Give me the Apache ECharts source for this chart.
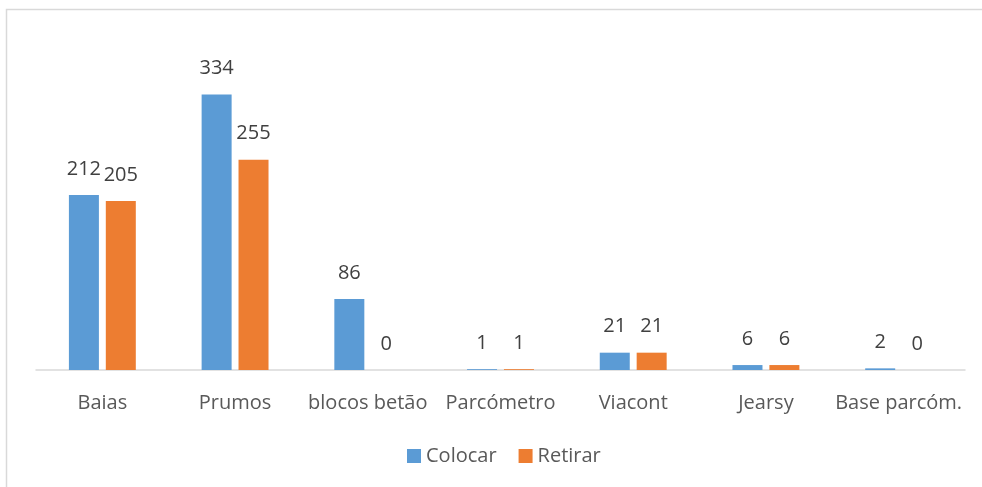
<!DOCTYPE html>
<html>
<head>
<meta charset="utf-8">
<script src="https://cdn.jsdelivr.net/npm/echarts@6/dist/echarts.min.js"></script>
<style>
  html, body { margin: 0; padding: 0; background: #fff; }
  #main { width: 982px; height: 487px; }
</style>
</head>
<body>
<div id="main"></div>
<script>
  var categories = ['Baias', 'Prumos', 'blocos betão', 'Parcómetro', 'Viacont', 'Jearsy', 'Base parcóm.'];
  var colocar = [212, 334, 86, 1, 21, 6, 2];
  var retirar = [205, 255, 0, 1, 21, 6, 0];

  var font = '"Open Sans", "Noto Sans", sans-serif';
  var labelOpt = {
    show: true,
    position: 'top',
    distance: 16,
    color: '#404040',
    fontFamily: font,
    fontSize: 20
  };

  var chart = echarts.init(document.getElementById('main'));
  chart.setOption({
    animation: false,
    color: ['#5B9BD5', '#ED7D31'],
    graphic: [{
      type: 'rect',
      shape: { x: 6.5, y: 9.5, width: 1000, height: 500 },
      style: { fill: 'none', stroke: '#d9d9d9', lineWidth: 1.5 },
      silent: true
    }],
    legend: {
      data: ['Colocar', 'Retirar'],
      bottom: 16,
      left: 402,
      itemWidth: 14,
      itemHeight: 14,
      itemGap: 22,
      icon: 'rect',
      textStyle: { color: '#595959', fontFamily: font, fontSize: 20 }
    },
    grid: { left: 36, right: 17, top: 40, bottom: 117 },
    xAxis: {
      type: 'category',
      data: categories,
      axisLine: { lineStyle: { color: '#d9d9d9', width: 1.5 } },
      axisTick: { show: false },
      axisLabel: { color: '#595959', fontFamily: font, fontSize: 20, margin: 23, interval: 0 }
    },
    yAxis: {
      type: 'value',
      min: 0,
      max: 400,
      show: false,
      splitLine: { show: false }
    },
    series: [{
      name: 'Colocar',
      type: 'bar',
      data: colocar,
      barWidth: 30,
      barGap: '23%',
      label: labelOpt
    }, {
      name: 'Retirar',
      type: 'bar',
      data: retirar,
      barWidth: 30,
      label: labelOpt
    }]
  });
</script>
</body>
</html>
